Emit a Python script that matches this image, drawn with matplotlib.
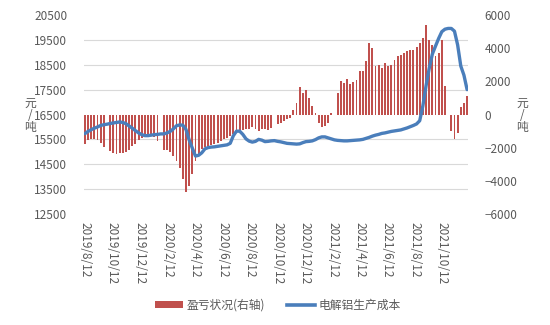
import numpy as np
import pandas as pd
import matplotlib
matplotlib.use("Agg")
import matplotlib.pyplot as plt
from matplotlib.patches import Patch
from matplotlib.lines import Line2D

plt.rcParams['font.family'] = ['Noto Sans CJK SC', 'DejaVu Sans']

# ---- data (weekly) ----
start_date = '2019-08-12'
n_weeks = 122
dates = pd.date_range(start_date, periods=n_weeks, freq='7D')

nan = np.nan
profit = [
    -1780, -1540, -1500, -1450, -1550, -1700, -1950, nan, -2200, -2350,
    -2400, -2300, -2300, -2250, -2150, -1900, -1750, -1550, -1400, -1250,
    -1200, -1250, -1350, -1600, nan, -2150, -2150, -2250, -2500, -2800,
    -3250, -3900, -4650, -4300, -3600, -2800, -2400, -2100, -1950, -1900,
    -1850, -1800, -1700, -1600, -1500, -1400, -1300, -1200, -1100, -1050,
    -950, -900, -850, -750, -900, -1000, -900, -850, -950, -800,
    nan, -550, -500, -400, -250, -200, 300, 700, 1650, 1300,
    1500, 1000, 500, 100, -500, -750, -700, -500, 100, nan,
    1300, 2050, 1900, 2150, 1850, 1950, 2100, 2600, 2600, 3200,
    4300, 4000, 2900, 3000, 2800, 3100, 2900, 3000, 3300, 3500,
    3600, 3700, 3800, 3900, 3900, 4100, 4300, 4600, 5400, 4500,
    4200, 3500, 3700, 4500, 1700, 0, -1000, -1450, -1100, 450,
    700, 1100,
]

cost = [
    15730, 15820, 15890, 15950, 16000, 16060, 16090, 16110, 16140, 16160,
    16180, 16200, 16180, 16130, 16040, 15950, 15850, 15760, 15690, 15650,
    15650, 15670, 15690, 15700, 15720, 15720, 15760, 15820, 15920, 16050,
    16080, 16070, 15900, 15480, 15150, 14830, 14860, 14960, 15120, 15170,
    15190, 15200, 15220, 15240, 15260, 15280, 15340, 15650, 15830, 15830,
    15700, 15520, 15430, 15390, 15420, 15500, 15470, 15410, 15420, 15440,
    15450, 15420, 15400, 15370, 15340, 15330, 15320, 15310, 15320, 15370,
    15410, 15420, 15440, 15490, 15560, 15600, 15600, 15560, 15520, 15480,
    15460, 15450, 15440, 15440, 15450, 15460, 15470, 15480, 15500, 15540,
    15580, 15630, 15670, 15700, 15740, 15760, 15790, 15820, 15840, 15860,
    15880, 15920, 15960, 16010, 16060, 16120, 16250, 16850, 17650, 18350,
    18930, 19250, 19560, 19830, 19930, 19960, 19960, 19850, 19300, 18450,
    18080, 17500,
]

tick_labels = ['2019/8/12', '2019/10/12', '2019/12/12', '2020/2/12', '2020/4/12',
               '2020/6/12', '2020/8/12', '2020/10/12', '2020/12/12', '2021/2/12',
               '2021/4/12', '2021/6/12', '2021/8/12', '2021/10/12']

left_ticks = list(range(12500, 20501, 1000))
right_ticks = list(range(-6000, 6001, 2000))

bar_name = '盈亏状况(右轴)'
line_name = '电解铝生产成本'
unit = '元\n/\n吨'

# ---- style ----
W, H = 550, 325
bar_color = '#C0504D'
line_color = '#4A7EBB'
txt_color = '#595959'
grid_color = '#D9D9D9'
fs = 8.5

fig = plt.figure(figsize=(W / 100, H / 100), dpi=100)
x0, x1, y0, y1 = 84, 468, 15, 214
ax = fig.add_axes([x0 / W, 1 - y1 / H, (x1 - x0) / W, (y1 - y0) / H])
ax2 = ax.twinx()

# bars on primary axis (shown on right)
ax.bar(dates, profit, width=4.2, color=bar_color, linewidth=0, zorder=2)
ax.set_ylim(-6000, 6000)
ax.yaxis.tick_right()
ax.set_yticks(right_ticks)
ax.set_yticks(np.linspace(-6000, 6000, len(left_ticks)), minor=True)
ax.grid(which='minor', axis='y', color=grid_color, linewidth=0.8)
ax.grid(which='major', axis='both', visible=False)
ax.set_axisbelow(True)
ax.tick_params(axis='y', which='both', length=0, pad=12, labelsize=fs,
               labelcolor=txt_color, labelleft=False, labelright=True)
ax.yaxis.set_minor_formatter(matplotlib.ticker.NullFormatter())

# line on twin axis (shown on left)
ax2.plot(dates, cost, color=line_color, linewidth=2.4, solid_capstyle='round', zorder=3)
ax2.set_ylim(12500, 20500)
ax2.yaxis.tick_left()
ax2.set_yticks(left_ticks)
ax2.tick_params(axis='y', length=0, pad=12, labelsize=fs, labelcolor=txt_color,
                labelleft=True, labelright=False)

# x axis
tick_pos = pd.to_datetime(tick_labels, format='%Y/%m/%d')
ax.set_xticks(tick_pos)
ax.set_xticklabels(tick_labels, rotation=-90, fontsize=fs, color=txt_color, va='top', ha='center')
ax.tick_params(axis='x', length=0, pad=6)
ax.set_xlim(dates[0] - pd.Timedelta(days=2), dates[-1] + pd.Timedelta(days=2))

for a in (ax, ax2):
    for s in a.spines.values():
        s.set_visible(False)

# unit labels
fig.text(30 / W, 1 - 115 / H, unit, ha='center', va='center', fontsize=fs,
         color=txt_color, linespacing=0.9)
fig.text(522 / W, 1 - 115 / H, unit, ha='center', va='center', fontsize=fs,
         color=txt_color, linespacing=0.9)

handles = [Patch(facecolor=bar_color, edgecolor='none'),
           Line2D([0], [0], color=line_color, linewidth=2.6)]
fig.legend(handles, [bar_name, line_name], loc='center', bbox_to_anchor=(278 / W, 1 - 305 / H),
           ncol=2, frameon=False, fontsize=fs, labelcolor=txt_color,
           handlelength=2.4, handleheight=0.6, columnspacing=1.8, handletextpad=0.3)

fig.savefig('out.png', dpi=100)
